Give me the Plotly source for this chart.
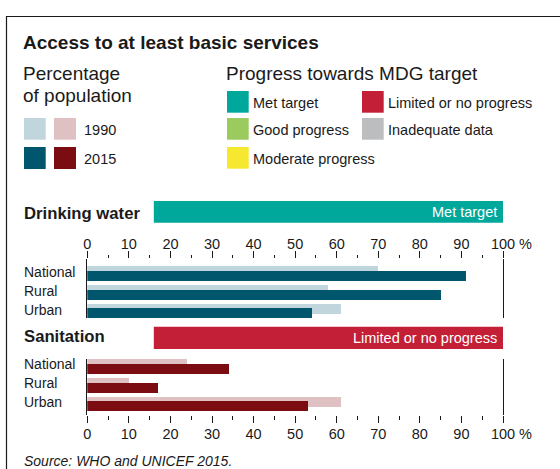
import plotly.graph_objects as go

W, H = 560, 469
FONT = "Liberation Sans, Arial, Helvetica, sans-serif"
INK = "#1a1a1a"

# ---- data ----
groups = ["National", "Rural", "Urban"]
water_1990 = [70, 58, 61]
water_2015 = [91, 85, 54]
sanitation_1990 = [24, 10, 61]
sanitation_2015 = [34, 17, 53]
tick_values = [0, 10, 20, 30, 40, 50, 60, 70, 80, 90, 100]
tick_labels = ["0", "10", "20", "30", "40", "50", "60", "70", "80", "90", "100"]
minor_values = [5, 15, 25, 35, 45, 55, 65, 75, 85, 95]
water_status = "Met target"
sanitation_status = "Limited or no progress"
progress_legend = [
    ("Met target", "#00a89c"),
    ("Good progress", "#9bcb5f"),
    ("Moderate progress", "#f6e82e"),
    ("Limited or no progress", "#c32038"),
    ("Inadequate data", "#bcbdbf"),
]

C_W90, C_W15 = "#c1d5dc", "#00566d"
C_S90, C_S15 = "#dfc1c3", "#7a0c12"

def px(x):
    return x / W

def py(y):
    return 1 - y / H

ypos = list(range(len(groups)))
BW = 0.532

fig = go.Figure()
# drinking water
fig.add_trace(go.Bar(x=water_1990, y=ypos, orientation="h", width=BW, offset=-0.391,
                     marker=dict(color=C_W90, line=dict(width=0)), xaxis="x", yaxis="y",
                     name="1990", showlegend=False))
fig.add_trace(go.Bar(x=water_2015, y=ypos, orientation="h", width=BW, offset=-0.141,
                     marker=dict(color=C_W15, line=dict(width=0)), xaxis="x", yaxis="y",
                     name="2015", showlegend=False))
# sanitation
fig.add_trace(go.Bar(x=sanitation_1990, y=ypos, orientation="h", width=BW, offset=-0.391,
                     marker=dict(color=C_S90, line=dict(width=0)), xaxis="x2", yaxis="y2",
                     name="1990", showlegend=False))
fig.add_trace(go.Bar(x=sanitation_2015, y=ypos, orientation="h", width=BW, offset=-0.141,
                     marker=dict(color=C_S15, line=dict(width=0)), xaxis="x2", yaxis="y2",
                     name="2015", showlegend=False))

xdom = [px(87.3), px(503)]
xcommon = dict(domain=xdom, range=[0, 100], showgrid=False, zeroline=False, showline=False,
               automargin=False,
               ticks="outside", ticklen=7, tickwidth=1, tickcolor=INK,
               tickmode="array", tickvals=tick_values, ticktext=tick_labels,
               tickfont=dict(family=FONT, size=14.5, color=INK),
               minor=dict(ticks="outside", ticklen=3.5, tickwidth=1, tickcolor=INK,
                          tickvals=minor_values, showgrid=False),
               fixedrange=True)
ycommon = dict(showgrid=False, zeroline=False, showline=True, linecolor=INK, linewidth=1.2,
               automargin=False,
               mirror=True, showticklabels=False, ticks="", fixedrange=True)

fig.update_layout(
    template="none",
    width=W, height=H, autosize=False, margin=dict(l=0, r=0, t=0, b=0, pad=0),
    paper_bgcolor="white", plot_bgcolor="rgba(0,0,0,0)",
    barmode="overlay", bargap=0,
    font=dict(family=FONT, color=INK),
    xaxis=dict(anchor="y", side="top", ticklabelstandoff=-4, **xcommon),
    yaxis=dict(anchor="x", domain=[py(318.3), py(259)], range=[2.391, -0.763], **ycommon),
    xaxis2=dict(anchor="y2", side="bottom", ticklabelstandoff=-1, **xcommon),
    yaxis2=dict(anchor="x2", domain=[py(415), py(359)], range=[2.582, -0.391], **ycommon),
)

shapes = []
annots = []

def text(x, y, s, size, bold=False, italic=False, color=INK, xanchor="left", xref="paper", xshift=0):
    t = f"<b>{s}</b>" if bold else s
    t = f"<i>{t}</i>" if italic else t
    annots.append(dict(x=x, y=y, xref=xref, yref="paper", text=t, showarrow=False,
                       xanchor=xanchor, yanchor="middle", xshift=xshift,
                       font=dict(family=FONT, size=size, color=color)))

def rect(x0, y0, x1, y1, color, xref="paper"):
    shapes.append(dict(type="rect", xref=xref, yref="paper", x0=x0, x1=x1,
                       y0=py(y0), y1=py(y1), fillcolor=color, line=dict(width=0), layer="below"))

# frame
shapes.append(dict(type="rect", xref="paper", yref="paper", x0=px(6.5), y0=py(480), x1=px(580),
                   y1=py(16.5), line=dict(color=INK, width=1.2), fillcolor="rgba(0,0,0,0)"))

# titles
text(px(21), py(43), "Access to at least basic services", 19, bold=True)
text(px(21), py(74), "Percentage", 19)
text(px(21), py(95), "of population", 19)
text(px(224), py(74), "Progress towards MDG target", 19)

# year legend
rect(px(24), 118, px(45.7), 139.7, C_W90)
rect(px(54), 118, px(76), 139.7, C_S90)
rect(px(24), 147, px(45.7), 169, C_W15)
rect(px(54), 147, px(76), 169, C_S15)
text(px(82), py(129.5), "1990", 14.5)
text(px(82), py(158.5), "2015", 14.5)

# progress legend
slots = [(227, 91), (227, 118), (227, 147), (362, 91), (362, 118)]
for (lab, col), (sx, sy) in zip(progress_legend, slots):
    rect(px(sx), sy, px(sx + 21.7), sy + 21.7, col)
    text(px(sx + 24), py(sy + 11.5), lab, 14.5)

# section banners (span in % units of the axis)
rect(16, 201, 100, 222.7, progress_legend[0][1], xref="x")
text(100, py(212.5), water_status, 14.5, color="white", xanchor="right", xref="x", xshift=-4)
text(px(22), py(213), "Drinking water", 16.7, bold=True)

rect(16, 326.7, 100, 349, progress_legend[3][1], xref="x")
text(100, py(338), sanitation_status, 14.5, color="white", xanchor="right", xref="x", xshift=-4)
text(px(22), py(336.5), "Sanitation", 16.7, bold=True)

# category labels
for i, g in enumerate(groups):
    annots.append(dict(x=px(22), y=i, xref="paper", yref="y", text=g, showarrow=False,
                       xanchor="left", yanchor="middle", yshift=1,
                       font=dict(family=FONT, size=14, color=INK)))
    annots.append(dict(x=px(22), y=i, xref="paper", yref="y2", text=g, showarrow=False,
                       xanchor="left", yanchor="middle", yshift=2,
                       font=dict(family=FONT, size=14, color=INK)))

# percent sign after 100
text(100, py(243.5), "%", 14.5, xanchor="left", xref="x", xshift=14)
text(100, py(434), "%", 14.5, xanchor="left", xref="x2", xshift=14)

# source
text(px(22), py(461), "Source: WHO and UNICEF 2015.", 14, italic=True)

fig.update_layout(shapes=shapes, annotations=annots)
fig.write_html("out.html",
               config={"displayModeBar": False, "responsive": False, "staticPlot": True},
               post_script="document.body.style.margin='0';document.body.style.overflow='hidden';")
